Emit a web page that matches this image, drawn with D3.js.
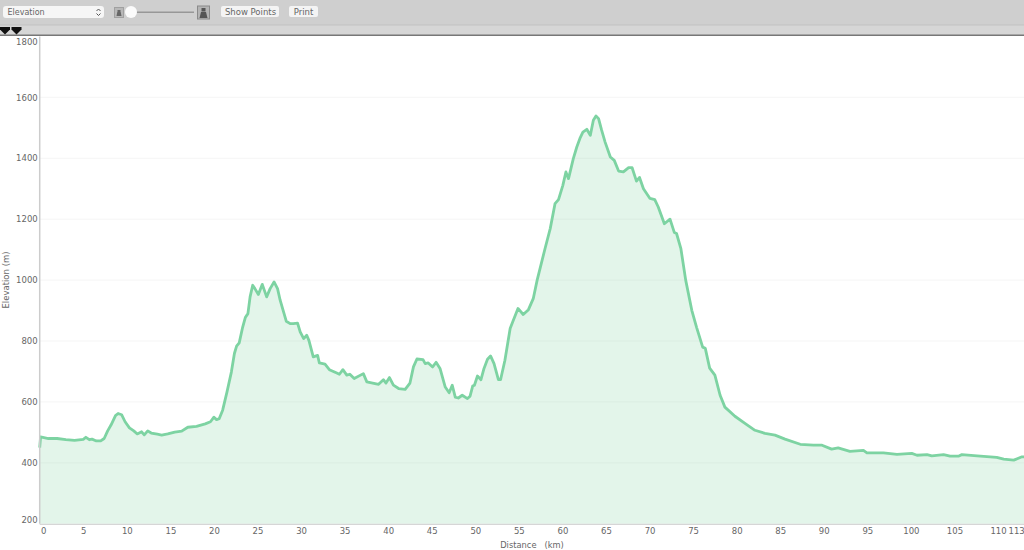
<!DOCTYPE html>
<html>
<head>
<meta charset="utf-8">
<script src="https://cdn.jsdelivr.net/npm/d3@7"></script>
<style>
html, body { margin: 0; padding: 0; background: #fff; overflow: hidden; }
text { font-family: "DejaVu Sans", sans-serif; }
</style>
</head>
<body>
<div id="chart"></div>
<script>
const distanceKm = [0, 0.1, 1, 2, 3, 4, 5, 5.3, 5.7, 6, 6.5, 7, 7.4, 7.8, 8.2, 8.7, 9, 9.4, 9.8, 10.3,
    10.8, 11.2, 11.7, 12, 12.4, 12.8, 13.5, 14, 14.7, 15.5, 16.3, 17, 18, 19, 19.6, 20, 20.3, 20.6, 21,
    21.5, 22, 22.35, 22.6, 22.9, 23.3, 23.6, 23.9, 24.15, 24.45, 24.7, 25.1, 25.55, 26.05, 26.45, 26.9,
    27.3, 27.6, 28, 28.3, 28.75, 29.1, 29.6, 29.9, 30.3, 30.65, 30.9, 31.4, 31.9, 32.1, 32.75, 33.25,
    34.1, 34.4, 34.8, 35.25, 35.6, 36.1, 37.15, 37.55, 38.9, 39.45, 39.75, 40.15, 40.6, 41.2, 41.95,
    42.5, 42.9, 43.3, 44, 44.25, 44.6, 45.1, 45.5, 45.95, 46.55, 47, 47.35, 47.7, 48.05, 48.5, 49.1,
    49.4, 49.7, 49.9, 50.25, 50.65, 51, 51.4, 51.75, 52.15, 52.65, 52.9, 53.4, 54, 54.3, 54.9, 55.5,
    56.1, 56.65, 57.1, 58, 58.6, 59.15, 59.55, 60.05, 60.4, 60.7, 61.25, 61.65, 62.05, 62.35, 62.8,
    63.2, 63.55, 63.85, 64.15, 64.5, 64.9, 65.5, 65.95, 66.45, 67, 67.6, 68, 68.5, 68.85, 69.3, 70.05,
    70.6, 71, 71.7, 72.35, 72.85, 73.1, 73.6, 74.15, 74.85, 75.4, 76.1, 76.4, 76.9, 77.5, 78.1, 78.65,
    79.8, 80.95, 82.1, 83.25, 84.4, 85.55, 87.3, 88.8, 89.8, 90.9, 91.65, 93, 94.55, 94.95, 96.85,
    98.4, 100.1, 100.7, 101.85, 102.4, 103.75, 104.5, 105.45, 105.85, 107.6, 109.85, 110.65, 111.8,
    112.75, 113];
const elevationM = [450, 485, 480, 480, 476, 474, 477, 484, 476, 478, 472, 472, 480, 505, 525, 555, 562, 558, 535, 515,
    505, 495, 502, 492, 505, 498, 494, 491, 495, 501, 504, 517, 520, 528, 535, 550, 542, 545, 573,
    633, 698, 759, 783, 794, 846, 877, 890, 945, 983, 972, 953, 986, 945, 972, 994,
    972, 934, 895, 865, 857, 857, 859, 830, 808, 819, 802, 748, 753, 728, 724, 706,
    695, 691, 706, 688, 691, 677, 693, 666, 658, 673, 662, 680, 655, 644, 641,
    662, 715, 741, 739, 726, 728, 715, 730, 710, 649, 630, 655, 616, 613, 622, 611,
    619, 652, 655, 685, 673, 710, 740, 751, 726, 673, 673, 737, 841, 863, 907, 887,
    903, 939, 1000, 1103, 1169, 1251, 1264, 1311, 1355, 1333, 1399, 1437, 1468, 1486, 1495,
    1475, 1525, 1539, 1530, 1492, 1453, 1404, 1393, 1358, 1355, 1369, 1369, 1325, 1337, 1300, 1268,
    1264, 1240, 1185, 1200, 1156, 1153, 1103, 1000, 901, 845, 780, 776, 711, 688, 622, 583,
    553, 530, 507, 497, 491, 478, 461, 458, 458, 445, 449, 438, 441, 433, 433,
    428, 431, 425, 427, 423, 427, 422, 422, 427, 423, 418, 412, 409,
    420, 420];
const xTicks = [0, 5, 10, 15, 20, 25, 30, 35, 40, 45, 50, 55, 60, 65, 70, 75, 80, 85, 90, 95, 100, 105, 110, 113];
const yTicks = [200, 400, 600, 800, 1000, 1200, 1400, 1600, 1800];

const width = 1024;
const height = 550;
const plot = { left: 39.7, right: 1024, top: 36.4, bottom: 523.8 };
const labelColor = "#666";

const xScale = d3.scaleLinear().domain([0, 113]).range([plot.left, plot.left + 113 * 8.712]);
const yScale = d3.scaleLinear().domain([200, 1800]).range([plot.bottom, plot.top]);
const profile = distanceKm.map((d, i) => ({ km: d, m: elevationM[i] }));

const svg = d3.select("#chart").append("svg")
    .attr("width", width)
    .attr("height", height)
    .style("display", "block");

// toolbar
svg.append("rect").attr("width", width).attr("height", 25).attr("fill", "#cfcfcf");
svg.append("rect").attr("y", 25).attr("width", width).attr("height", 10).attr("fill", "#d6d6d6");
svg.append("rect").attr("y", 24.5).attr("width", width).attr("height", 1).attr("fill", "#c2c2c2");
svg.append("rect").attr("y", 34.5).attr("width", width).attr("height", 1.5).attr("fill", "#777");

svg.append("rect").attr("x", 3).attr("y", 6).attr("width", 101).attr("height", 12).attr("rx", 3).attr("fill", "#f6f6f6");
svg.append("text").attr("x", 7.5).attr("y", 15.2).attr("font-size", 8).attr("fill", labelColor).text("Elevation");
svg.append("path").attr("d", "M96.5 11 l2 -2 l2 2 M96.5 13.5 l2 2 l2 -2").attr("fill", "none").attr("stroke", "#555");

svg.append("rect").attr("x", 114.5).attr("y", 7.5).attr("width", 9).attr("height", 10).attr("fill", "#b8b8b8").attr("stroke", "#a0a0a0");
svg.append("path").attr("d", "M116.5 16 l0.8 -4 h3.4 l0.8 4 z M117.5 10 h3 v2 h-3 z").attr("fill", "#666");
svg.append("rect").attr("x", 131).attr("y", 11.5).attr("width", 63).attr("height", 1.5).attr("fill", "#979797");
svg.append("circle").attr("cx", 131).attr("cy", 12).attr("r", 6).attr("fill", "#fbfbfb");
svg.append("rect").attr("x", 197.5).attr("y", 6).attr("width", 12).attr("height", 13).attr("fill", "#b4b4b4").attr("stroke", "#8a8a8a");
svg.append("path").attr("d", "M199.5 18 l1.5 -6 h5 l1.5 6 z M201.5 8 h4 v3.5 h-4 z").attr("fill", "#555");

svg.append("rect").attr("x", 221).attr("y", 6).attr("width", 58).attr("height", 11).attr("rx", 2).attr("fill", "#f4f4f4");
svg.append("text").attr("x", 250.5).attr("y", 14.5).attr("text-anchor", "middle").attr("font-size", 8.5).attr("fill", labelColor).text("Show Points");
svg.append("rect").attr("x", 289).attr("y", 6).attr("width", 29).attr("height", 11).attr("rx", 2).attr("fill", "#f4f4f4");
svg.append("text").attr("x", 303.5).attr("y", 14.5).attr("text-anchor", "middle").attr("font-size", 8.5).attr("fill", labelColor).text("Print");

[5, 16.5].forEach(x => {
    svg.append("path")
       .attr("d", `M${x - 5} 27 h10 v2.5 l-5 5 l-5 -5 z`)
       .attr("fill", "#111");
});

// grid
svg.append("g").selectAll("line").data(yTicks.slice(1, -1)).join("line")
   .attr("x1", plot.left)
   .attr("x2", plot.right)
   .attr("y1", d => yScale(d))
   .attr("y2", d => yScale(d))
   .attr("stroke", "#f5f5f5");

// area and line
const area = d3.area()
    .x(d => xScale(d.km))
    .y0(plot.bottom)
    .y1(d => yScale(d.m));
const line = d3.line()
    .x(d => xScale(d.km))
    .y(d => yScale(d.m));

svg.append("path").datum(profile)
   .attr("d", area)
   .attr("fill", "#7fd1a0")
   .attr("fill-opacity", 0.22);
svg.append("path").datum(profile)
   .attr("d", line)
   .attr("fill", "none")
   .attr("stroke", "#7dd3a2")
   .attr("stroke-width", 2.8)
   .attr("stroke-linejoin", "round");

// axes
const xAxis = svg.append("g")
    .attr("transform", `translate(0, ${plot.bottom})`)
    .call(d3.axisBottom(xScale).tickValues(xTicks).tickSize(0).tickPadding(4).tickFormat(d3.format("d")));
const yAxis = svg.append("g")
    .attr("transform", `translate(${plot.left}, 0)`)
    .call(d3.axisLeft(yScale).tickValues(yTicks).tickSize(0).tickPadding(2).tickFormat(d3.format("d")));

[xAxis, yAxis].forEach(axis => {
    axis.select(".domain").remove();
    axis.selectAll("text")
        .attr("font-family", "DejaVu Sans")
        .attr("font-size", 8.5)
        .attr("fill", labelColor);
});

// the end labels are pushed inside the plot edges
xAxis.selectAll("text").filter(d => d === 0).attr("dx", 3.5);
xAxis.selectAll("text").filter(d => d === 113).attr("dx", -8);
yAxis.selectAll("text").filter(d => d === 1800).attr("dy", "0.95em");
yAxis.selectAll("text").filter(d => d === 200).attr("dy", "-0.2em");

svg.append("line")
   .attr("x1", plot.left).attr("x2", plot.left)
   .attr("y1", plot.top).attr("y2", plot.bottom)
   .attr("stroke", "#cccccc").attr("stroke-width", 1.5);
svg.append("line")
   .attr("x1", plot.left).attr("x2", plot.right)
   .attr("y1", plot.bottom + 0.5).attr("y2", plot.bottom + 0.5)
   .attr("stroke", "#cccccc").attr("stroke-width", 1);

svg.append("text")
   .attr("x", 532).attr("y", 547.5)
   .attr("text-anchor", "middle")
   .attr("font-size", 8.3)
   .attr("fill", labelColor)
   .attr("xml:space", "preserve")
   .text("Distance   (km)");
svg.append("text")
   .attr("transform", "translate(9, 280) rotate(-90)")
   .attr("text-anchor", "middle")
   .attr("font-size", 8.5)
   .attr("fill", labelColor)
   .text("Elevation (m)");
</script>
</body>
</html>
